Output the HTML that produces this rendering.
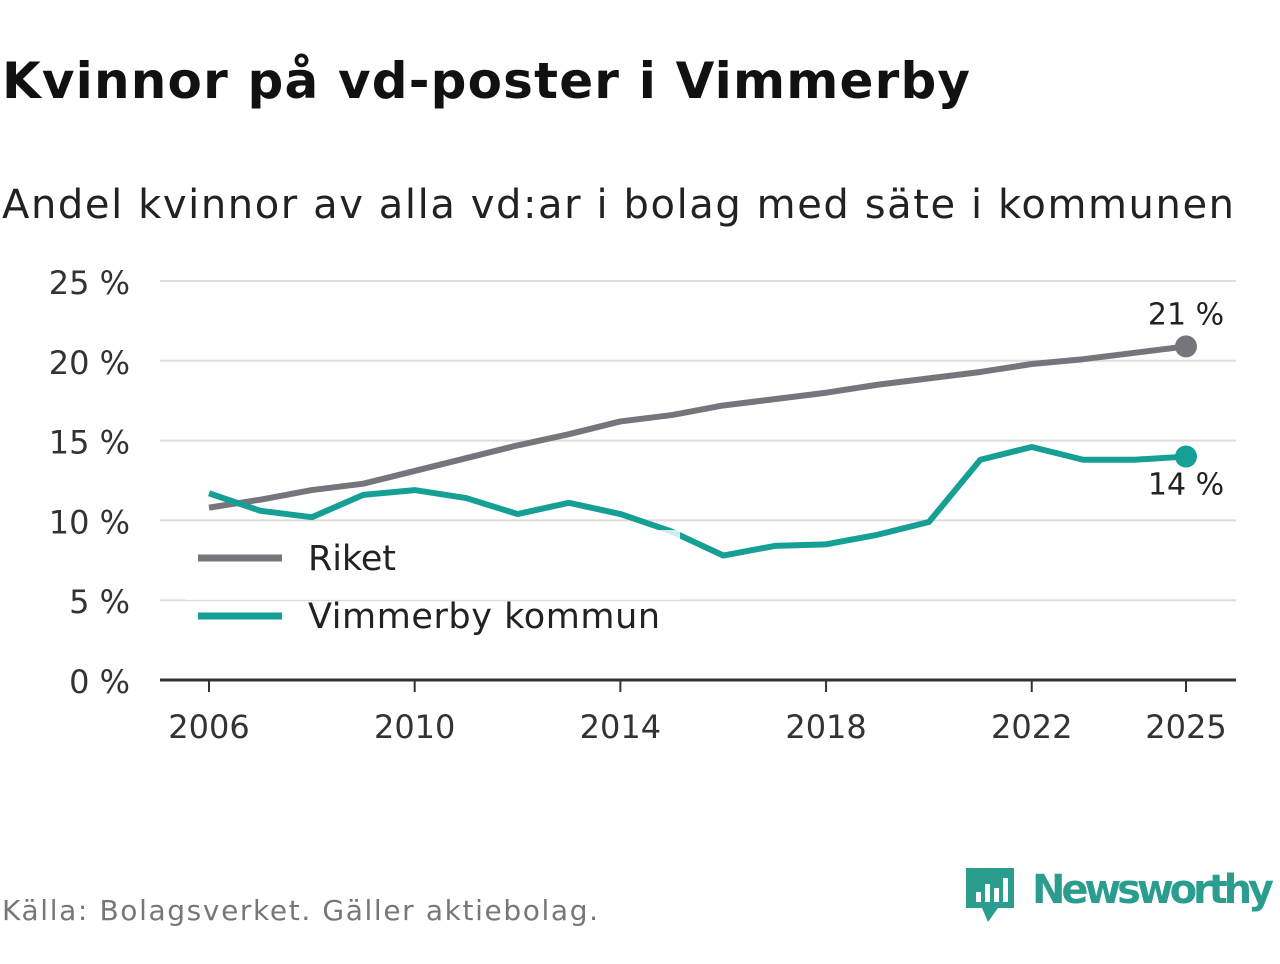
<!DOCTYPE html>
<html><head><meta charset="utf-8"><style>
body{margin:0;width:1280px;height:960px;background:#fff;font-family:"DejaVu Sans","Liberation Sans",sans-serif;overflow:hidden}
</style></head><body>
<svg width="1280" height="960">
<text x="2" y="98" font-size="50" font-weight="bold" fill="#111" textLength="968">Kvinnor på vd-poster i Vimmerby</text>
<text x="2" y="218" font-size="40" fill="#222" textLength="1232">Andel kvinnor av alla vd:ar i bolag med säte i kommunen</text>
<g id="grid"></g><g id="lines"></g>
<text x="2" y="920" font-size="28" fill="#777" textLength="596">Källa: Bolagsverket. Gäller aktiebolag.</text>
<g>
<path d="M966 868h48v40h-16l-10 14-6-14h-16z" fill="#2a9d8f"/>
<rect x="976" y="892" width="5" height="10" fill="#fff"/><rect x="985" y="884" width="5" height="18" fill="#fff"/><rect x="994" y="888" width="5" height="14" fill="#fff"/><rect x="1003" y="878" width="5" height="24" fill="#fff"/>
<text x="1032" y="903" font-size="40" font-weight="bold" fill="#2a9d8f" textLength="242">Newsworthy</text></g>
</svg>
<script>
const years=[2006,2007,2008,2009,2010,2011,2012,2013,2014,2015,2016,2017,2018,2019,2020,2021,2022,2023,2024,2025];
const riket=[10.8,11.3,11.9,12.3,13.1,13.9,14.7,15.4,16.2,16.6,17.2,17.6,18.0,18.5,18.9,19.3,19.8,20.1,20.5,20.9];
const vimmerby=[11.7,10.6,10.2,11.6,11.9,11.4,10.4,11.1,10.4,9.3,7.8,8.4,8.5,9.1,9.9,13.8,14.6,13.8,13.8,14.0];
const yTicks=[0,5,10,15,20,25];
const xTicks=[2006,2010,2014,2018,2022,2025];
const NS="http://www.w3.org/2000/svg";
const X=y=>209+(y-2006)*(1186-209)/19;
const Y=v=>680-v*(680-281)/25;
function mk(t,a,p){const e=document.createElementNS(NS,t);for(const k in a)e.setAttribute(k,a[k]);p.appendChild(e);return e;}
const g=document.getElementById('grid'),L=document.getElementById('lines');
yTicks.forEach(v=>{
 if(v>0){const l=mk('line',{x1:160,x2:1236,y1:Y(v),y2:Y(v),stroke:'#ddd','stroke-width':2},g);
 
 }
 const t=mk('text',{x:130,y:Y(v)+13,'font-size':32,fill:'#333','text-anchor':'end'},g);t.textContent=v+' %';
 
 
});
const ax=mk('line',{x1:160,x2:1236,y1:680,y2:680,stroke:'#333','stroke-width':3},g);


xTicks.forEach(y=>{
 mk('line',{x1:X(y),x2:X(y),y1:680,y2:692,stroke:'#333','stroke-width':2},g);
 const t=mk('text',{x:X(y),y:738,'font-size':32,fill:'#333','text-anchor':'middle'},g);t.textContent=y;
 
 
});
function series(vals,col,name){
 const p=mk('polyline',{points:vals.map((v,i)=>X(years[i])+','+Y(v)).join(' '),fill:'none',stroke:col,'stroke-width':6,'stroke-linejoin':'round'},L);
 
 
 const n=vals.length-1;
 const c=mk('circle',{cx:X(years[n]),cy:Y(vals[n]),r:11,fill:col},L);
 
 
}
series(riket,'#76757c','riket');
series(vimmerby,'#16a095','vimmerby');
const bg=mk('rect',{x:185,y:530,width:495,height:70,fill:'#fff','fill-opacity':0.8},L);


[['Riket','#76757c',558,88],['Vimmerby kommun','#16a095',616,352]].forEach(([n,c,y,w])=>{
 const l=mk('line',{x1:198,x2:282,y1:y,y2:y,stroke:c,'stroke-width':7},L);
 
 
 const t=mk('text',{x:308,y:y+12,'font-size':35,fill:'#222',textLength:w},L);t.textContent=n;
 
 
});
const n=riket.length-1;
const a=mk('text',{x:1186,y:Y(riket[n])-22,'font-size':30,fill:'#222','text-anchor':'middle'},L);a.textContent=Math.round(riket[n])+' %';


const b=mk('text',{x:1186,y:Y(vimmerby[n])+38,'font-size':30,fill:'#222','text-anchor':'middle'},L);b.textContent=Math.round(vimmerby[n])+' %';


</script>
</body></html>
